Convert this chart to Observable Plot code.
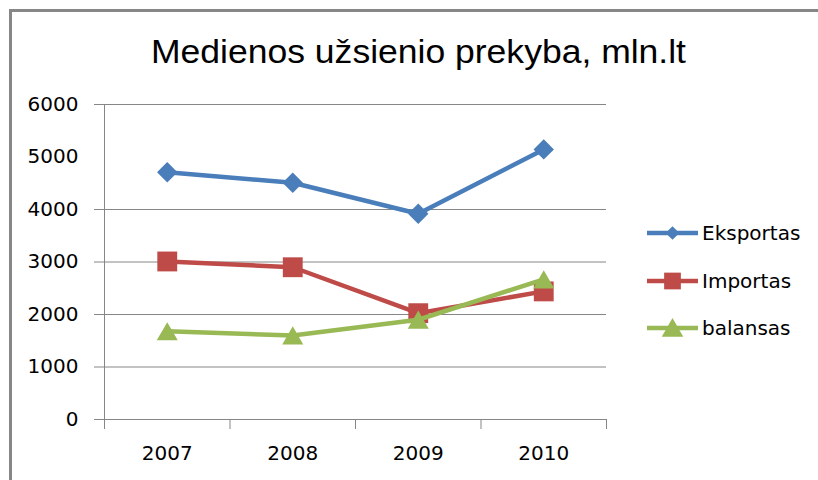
<!DOCTYPE html>
<html>
<head>
<meta charset="utf-8">
<script src="https://cdn.jsdelivr.net/npm/d3@7"></script>
<script src="https://cdn.jsdelivr.net/npm/@observablehq/plot@0.6"></script>
<style>
  html, body { margin: 0; padding: 0; background: #fff; overflow: hidden; }
  #wrap { position: relative; width: 818px; height: 480px; overflow: hidden; }
  #frame { position: absolute; left: 9px; top: 9px; width: 900px; height: 600px;
           border-left: 3px solid #878787; border-top: 3px solid #878787; }
  #chart { position: absolute; left: 0; top: 0; }
  #title { position: absolute; left: 0; top: 0; }
  #legend { position: absolute; left: 0; top: 0; }
</style>
</head>
<body>
<div id="wrap">
  <div id="frame"></div>
  <div id="chart"></div>
  <svg id="title" width="818" height="90"></svg>
  <svg id="legend" width="818" height="480"></svg>
</div>
<script>
const titleText = "Medienos užsienio prekyba, mln.lt";
const years = ["2007", "2008", "2009", "2010"];
const seriesNames = ["Eksportas", "Importas", "balansas"];
const eksportas = [4710, 4510, 3920, 5145];
const importas = [3010, 2900, 2025, 2440];
const balansas = [1680, 1600, 1900, 2670];
const yTicks = [0, 1000, 2000, 3000, 4000, 5000, 6000];
const yGrid = [0, 1000, 2000, 3000, 4000, 6000];
const colors = ["#4a7ebb", "#be4b48", "#98b954"];
const symbols = ["diamond2", "square", "triangle"];

const FONT = "'DejaVu Sans', 'Open Sans', sans-serif";
const FSIZE = 20;

const seriesValues = [eksportas, importas, balansas];
const xPos = years.map((_, i) => i + 0.5);
const rows = seriesNames.map((s, k) =>
  years.map((yr, i) => ({series: s, year: yr, x: xPos[i], value: seriesValues[k][i]})));

const symbolR = [9.2, 11.2, 7.8];
const symbolDy = [0, 0, 3];

const marks = [
  Plot.gridY(yGrid, {stroke: "#868686", strokeOpacity: 1, strokeWidth: 1}),
  Plot.axisY(yGrid, {tickSize: 10, tickFormat: () => "", label: null, stroke: "#868686", strokeOpacity: 1}),
  Plot.axisY(yTicks, {tickSize: 0, tickPadding: 26, label: null, tickFormat: d => String(d), fill: "#000", fontSize: FSIZE}),
  Plot.ruleX([0], {stroke: "#868686"}),
  Plot.axisX(d3.range(years.length + 1), {tickSize: 10, tickFormat: () => "", label: null, stroke: "#868686", strokeOpacity: 1}),
  Plot.axisX(xPos, {tickSize: 0, tickPadding: 26, label: null, tickFormat: d => years[Math.round(d - 0.5)], fill: "#000", fontSize: FSIZE})
];
rows.forEach((r, k) => {
  marks.push(Plot.line(r, {x: "x", y: "value", stroke: colors[k], strokeWidth: 4.5, strokeLinejoin: "round"}));
  marks.push(Plot.dot(r, {x: "x", y: "value", symbol: () => symbols[k], r: symbolR[k], fill: colors[k], stroke: "none", dy: symbolDy[k]}));
});

const plot = Plot.plot({
  width: 818,
  height: 480,
  marginLeft: 104,
  marginRight: 212,
  marginTop: 104,
  marginBottom: 61,
  x: {domain: [0, years.length], axis: null},
  y: {domain: [0, 6000], axis: null},
  style: {fontFamily: FONT, fontSize: FSIZE + "px", color: "#000", background: "transparent", overflow: "visible"},
  marks
});
document.getElementById("chart").appendChild(plot);

// title
const tsvg = d3.select("#title");
tsvg.append("text")
  .attr("x", 151).attr("y", 63)
  .attr("textLength", 535).attr("lengthAdjust", "spacingAndGlyphs")
  .style("font-family", "'Liberation Sans', Arial, sans-serif")
  .style("font-size", "34px")
  .attr("fill", "#000")
  .text(titleText);

// legend
const lg = d3.select("#legend");
const legendY = [233, 281, 328];
const legSymSize = [120, 280, 200];
const d3sym = [d3.symbolDiamond2, d3.symbolSquare, d3.symbolTriangle];
seriesNames.forEach((name, k) => {
  const g = lg.append("g").attr("transform", `translate(0,${legendY[k]})`);
  g.append("line").attr("x1", 647).attr("x2", 698).attr("y1", 0).attr("y2", 0)
    .attr("stroke", colors[k]).attr("stroke-width", 4.5);
  g.append("path").attr("d", d3.symbol(d3sym[k], legSymSize[k])())
    .attr("transform", `translate(672.5,${k === 2 ? 2.5 : 0})`)
    .attr("fill", colors[k]);
  g.append("text").attr("x", 702).attr("y", 0).attr("dy", "0.35em")
    .style("font-family", FONT).style("font-size", FSIZE + "px")
    .attr("fill", "#000").text(name);
});
</script>
</body>
</html>
